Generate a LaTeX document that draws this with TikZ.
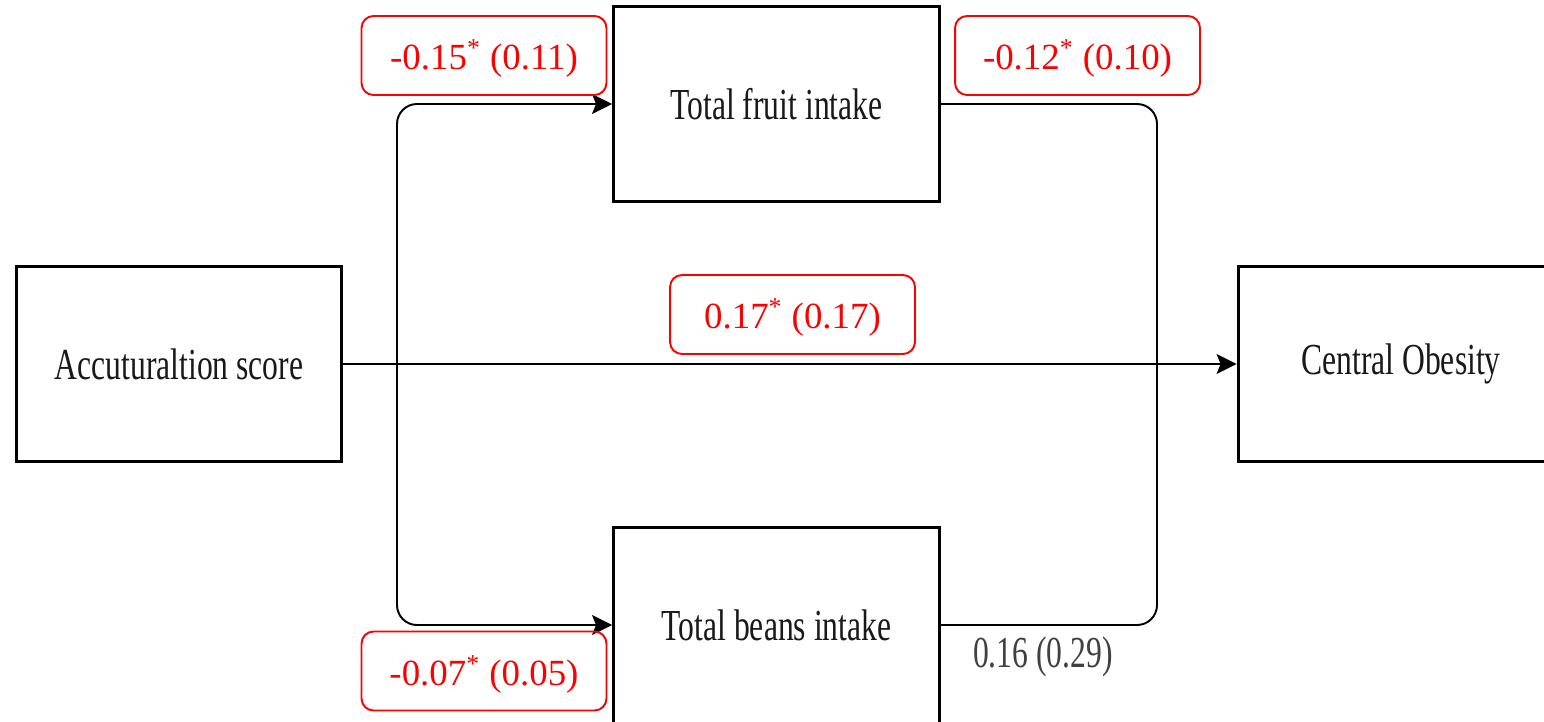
\documentclass[tikz,border=0pt]{standalone}
\usepackage{fontspec}
\usepackage{graphicx}
\setmainfont{Liberation Serif}
\usetikzlibrary{arrows.meta}
\tikzset{
  varbox/.style={draw=black, line width=1.7pt, minimum width=6.52cm, minimum height=3.92cm,
    inner sep=0pt, font=\fontsize{18}{21}\selectfont, text=black!90},
  coefbox/.style={draw=red, line width=1.1pt, rounded corners=0.24cm, minimum width=4.9cm,
    minimum height=1.58cm, inner sep=0pt, text height=21pt, text depth=4.6pt,
    text=red, font=\fontsize{21}{25}\selectfont},
  conn/.style={line width=1.1pt, -{Stealth[length=0.4cm, width=0.4cm, inset=0.08cm]}},
  link/.style={line width=1.1pt, rounded corners=0.4cm},
}
\newcommand{\tall}[1]{\scalebox{1}[1.4]{#1}}
\begin{document}
\begin{tikzpicture}[x=0.02cm, y=-0.02cm]
  \useasboundingbox (0,0) rectangle (1544,721);
  \clip (0,0) rectangle (1544,721);

  % variables
  \node[varbox] (acc)   at (179,364)    {\tall{Accuturaltion score}};
  \node[varbox] (fruit) at (776.5,104)  {\tall{Total fruit intake}};
  \node[varbox] (beans) at (776.5,625)  {\tall{Total beans intake}};
  \node[varbox] (co)    at (1401,364)   {\tall{Central Obesity}};

  % branch points on the direct path
  \coordinate (split) at (397,364);
  \coordinate (merge) at (1157,364);

  % direct effect
  \draw[conn] (acc.east) -- (co.west);

  % paths through the mediators
  \draw[link, conn] (split) |- (fruit.west);
  \draw[link, conn] (split) |- (beans.west);
  \draw[link] (fruit.east) -| (merge);
  \draw[link] (beans.east) -| (merge);

  % path coefficients
  \node[coefbox] (c1) at (484,55.5)    {-0.15\textsuperscript{*} (0.11)};
  \node[coefbox] (c2) at (1077.5,55.5) {-0.12\textsuperscript{*} (0.10)};
  \node[coefbox] (c3) at (792.5,314.5) {0.17\textsuperscript{*} (0.17)};
  \node[coefbox] (c4) at (484,671)     {-0.07\textsuperscript{*} (0.05)};
  \node[font=\fontsize{18}{21}\selectfont, text=black!75, inner sep=0pt] (c5) at (1043,657) {\tall{0.16 (0.29)}};
\end{tikzpicture}
\end{document}
